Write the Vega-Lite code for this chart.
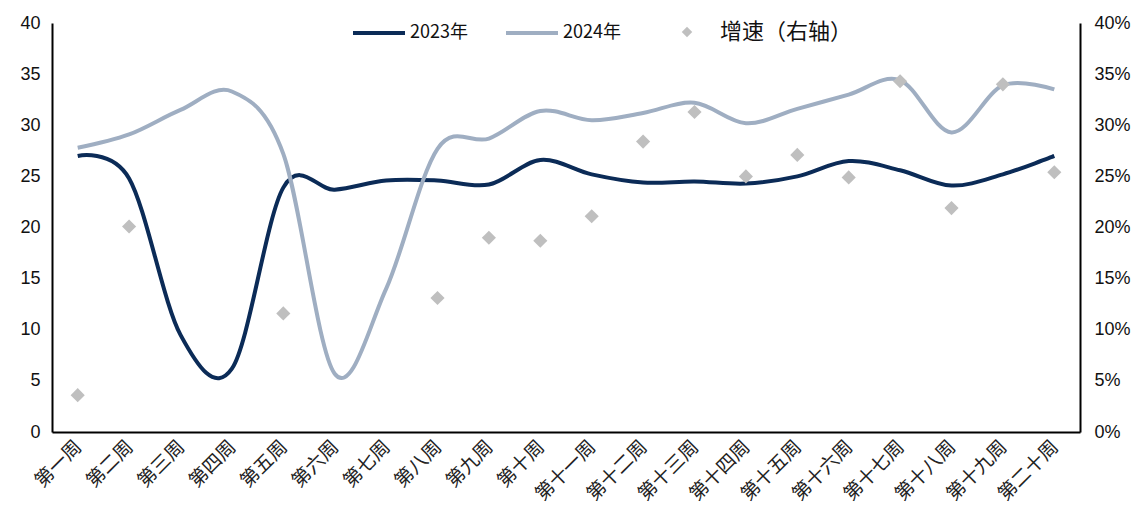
{
  "$schema": "https://vega.github.io/schema/vega-lite/v6.json",
  "width": 1028,
  "height": 409,
  "autosize": "none",
  "padding": {"left": 52, "top": 23, "right": 59, "bottom": 93},
  "background": "white",
  "config": {
    "view": {"stroke": null},
    "font": "Liberation Sans"
  },
  "data": {
    "values": [
      {"week": "第一周", "series": "2023年", "value": 27.0},
      {"week": "第二周", "series": "2023年", "value": 24.8},
      {"week": "第三周", "series": "2023年", "value": 9.5},
      {"week": "第四周", "series": "2023年", "value": 6.2},
      {"week": "第五周", "series": "2023年", "value": 23.9},
      {"week": "第六周", "series": "2023年", "value": 23.7},
      {"week": "第七周", "series": "2023年", "value": 24.6},
      {"week": "第八周", "series": "2023年", "value": 24.6},
      {"week": "第九周", "series": "2023年", "value": 24.2},
      {"week": "第十周", "series": "2023年", "value": 26.6},
      {"week": "第十一周", "series": "2023年", "value": 25.2},
      {"week": "第十二周", "series": "2023年", "value": 24.4},
      {"week": "第十三周", "series": "2023年", "value": 24.5},
      {"week": "第十四周", "series": "2023年", "value": 24.3},
      {"week": "第十五周", "series": "2023年", "value": 25.0},
      {"week": "第十六周", "series": "2023年", "value": 26.5},
      {"week": "第十七周", "series": "2023年", "value": 25.6},
      {"week": "第十八周", "series": "2023年", "value": 24.1},
      {"week": "第十九周", "series": "2023年", "value": 25.2},
      {"week": "第二十周", "series": "2023年", "value": 27.0},
      {"week": "第一周", "series": "2024年", "value": 27.8},
      {"week": "第二周", "series": "2024年", "value": 29.1},
      {"week": "第三周", "series": "2024年", "value": 31.5},
      {"week": "第四周", "series": "2024年", "value": 33.3},
      {"week": "第五周", "series": "2024年", "value": 27.2},
      {"week": "第六周", "series": "2024年", "value": 5.7},
      {"week": "第七周", "series": "2024年", "value": 14.0},
      {"week": "第八周", "series": "2024年", "value": 27.7},
      {"week": "第九周", "series": "2024年", "value": 28.7},
      {"week": "第十周", "series": "2024年", "value": 31.4},
      {"week": "第十一周", "series": "2024年", "value": 30.5},
      {"week": "第十二周", "series": "2024年", "value": 31.2},
      {"week": "第十三周", "series": "2024年", "value": 32.2},
      {"week": "第十四周", "series": "2024年", "value": 30.2},
      {"week": "第十五周", "series": "2024年", "value": 31.6},
      {"week": "第十六周", "series": "2024年", "value": 33.0},
      {"week": "第十七周", "series": "2024年", "value": 34.4},
      {"week": "第十八周", "series": "2024年", "value": 29.3},
      {"week": "第十九周", "series": "2024年", "value": 33.9},
      {"week": "第二十周", "series": "2024年", "value": 33.5},
      {"week": "第一周", "series": "增速（右轴）", "value": 0.036},
      {"week": "第二周", "series": "增速（右轴）", "value": 0.201},
      {"week": "第五周", "series": "增速（右轴）", "value": 0.116},
      {"week": "第八周", "series": "增速（右轴）", "value": 0.131},
      {"week": "第九周", "series": "增速（右轴）", "value": 0.190},
      {"week": "第十周", "series": "增速（右轴）", "value": 0.187},
      {"week": "第十一周", "series": "增速（右轴）", "value": 0.211},
      {"week": "第十二周", "series": "增速（右轴）", "value": 0.284},
      {"week": "第十三周", "series": "增速（右轴）", "value": 0.313},
      {"week": "第十四周", "series": "增速（右轴）", "value": 0.250},
      {"week": "第十五周", "series": "增速（右轴）", "value": 0.271},
      {"week": "第十六周", "series": "增速（右轴）", "value": 0.249},
      {"week": "第十七周", "series": "增速（右轴）", "value": 0.343},
      {"week": "第十八周", "series": "增速（右轴）", "value": 0.219},
      {"week": "第十九周", "series": "增速（右轴）", "value": 0.340},
      {"week": "第二十周", "series": "增速（右轴）", "value": 0.254}
    ]
  },
  "encoding": {
    "x": {
      "field": "week",
      "type": "nominal",
      "sort": ["第一周","第二周","第三周","第四周","第五周","第六周","第七周","第八周","第九周","第十周","第十一周","第十二周","第十三周","第十四周","第十五周","第十六周","第十七周","第十八周","第十九周","第二十周"],
      "scale": {"type": "point", "padding": 0.5},
      "axis": {
        "title": null,
        "labelAngle": -45,
        "labelAlign": "right",
        "labelBaseline": "top",
        "labelFont": "Noto Sans CJK SC",
        "labelFontSize": 19,
        "labelColor": "#222222",
        "labelPadding": 5,
        "labelOffset": -6,
        "labelOverlap": false,
        "ticks": false,
        "domainColor": "#000000",
        "domainWidth": 2,
        "grid": false
      }
    },
    "color": {
      "field": "series",
      "type": "nominal",
      "scale": {
        "domain": ["2023年", "2024年", "增速（右轴）"],
        "range": ["#0B2B57", "#9FAEC2", "#BFBFBF"]
      },
      "legend": {
        "title": null,
        "orient": "none",
        "direction": "horizontal",
        "legendX": 301,
        "legendY": 0,
        "labelFont": "Noto Sans CJK SC",
        "labelFontSize": 18,
        "labelColor": "#111111",
        "labelOffset": 5,
        "columnPadding": 30,
        "symbolStrokeWidth": 4,
        "encode": {
          "symbols": {
            "update": {
              "x": {"signal": "datum.value === '增速（右轴）' ? 36 : 26"},
              "shape": {"signal": "datum.value === '增速（右轴）' ? 'diamond' : 'stroke'"},
              "size": {"signal": "datum.value === '增速（右轴）' ? 110 : 2704"},
              "strokeWidth": {"signal": "datum.value === '增速（右轴）' ? 0 : 4"},
              "stroke": {"signal": "datum.value === '2023年' ? '#0B2B57' : (datum.value === '2024年' ? '#9FAEC2' : 'transparent')"},
              "fill": {"signal": "datum.value === '增速（右轴）' ? '#BFBFBF' : 'transparent'"},
              "opacity": {"value": 1}
            }
          },
          "labels": {
            "update": {
              "x": {"signal": "datum.value === '增速（右轴）' ? 69 : 57"},
              "fontSize": {"signal": "datum.value === '增速（右轴）' ? 22 : 18"}
            }
          }
        }
      }
    }
  },
  "layer": [
    {
      "transform": [{"filter": "datum.series !== '增速（右轴）'"}],
      "mark": {"type": "line", "interpolate": "cardinal", "tension": 0, "strokeWidth": 4},
      "encoding": {
        "y": {
          "field": "value",
          "type": "quantitative",
          "scale": {"domain": [0, 40], "nice": false},
          "axis": {
            "title": null,
            "values": [0, 5, 10, 15, 20, 25, 30, 35, 40],
            "orient": "left",
            "ticks": false,
            "grid": false,
            "labelFontSize": 18,
            "labelColor": "#111111",
            "labelPadding": 12,
            "domainColor": "#000000",
            "domainWidth": 2
          }
        }
      }
    },
    {
      "transform": [{"filter": "datum.series === '增速（右轴）'"}],
      "mark": {"type": "point", "shape": "diamond", "filled": true, "size": 200, "opacity": 1},
      "encoding": {
        "y": {
          "field": "value",
          "type": "quantitative",
          "scale": {"domain": [0, 0.4], "nice": false},
          "axis": {
            "title": null,
            "values": [0, 0.05, 0.1, 0.15, 0.2, 0.25, 0.3, 0.35, 0.4],
            "format": ".0%",
            "orient": "right",
            "ticks": false,
            "grid": false,
            "labelFontSize": 18,
            "labelColor": "#111111",
            "labelPadding": 14,
            "domainColor": "#000000",
            "domainWidth": 2
          }
        }
      }
    }
  ],
  "resolve": {"scale": {"y": "independent"}}
}
